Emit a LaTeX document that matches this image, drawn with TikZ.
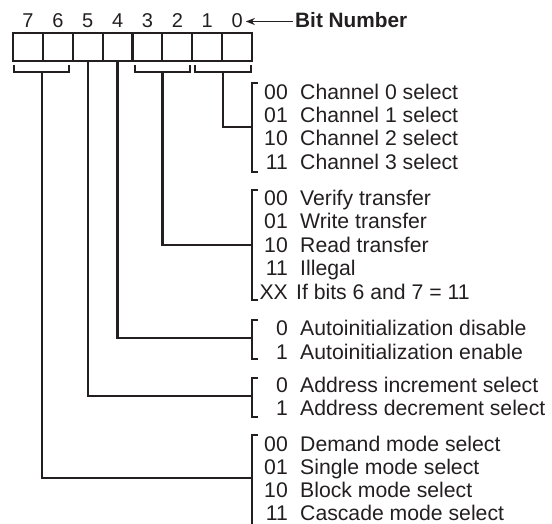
\documentclass[tikz,border=0pt]{standalone}
\usepackage{fontspec}
\setmainfont{Liberation Sans}
\usetikzlibrary{arrows.meta}
\definecolor{ink}{RGB}{35,31,32}
\tikzset{
  bitbox/.style={draw=ink, line width=2.2pt, minimum width=29.875pt, minimum height=28pt, inner sep=0pt, outer sep=0pt},
  bitnum/.style={text=ink, font=\fontsize{20}{20}\selectfont, inner sep=0pt, anchor=base},
  wire/.style={draw=ink, line width=2.2pt, line cap=butt, line join=miter},
  code/.style={text=ink, font=\fontsize{21.2}{21.2}\selectfont, inner sep=0pt, anchor=base east},
  desc/.style={text=ink, font=\fontsize{21.2}{21.2}\selectfont, inner sep=0pt, anchor=base west},
}
\begin{document}
\begin{tikzpicture}[x=1pt,y=-1pt]
\useasboundingbox (0,0) rectangle (552,524);
% boxes and bit numbers
\foreach \b [count=\k from 0] in {7,6,5,4,3,2,1,0}{
  \node[bitbox] (b\b) at ({13+29.875*\k+14.9375},47) {};
  \node[bitnum] (n\b) at ({13+29.875*\k+14.9375},28) {\b};
}
\node[text=ink, font=\bfseries\fontsize{20.8}{20.8}\selectfont, inner sep=0pt, anchor=base west] (bitlbl) at (295,28) {Bit Number};
\coordinate (arrS) at ([xshift=-2pt,yshift=6.5pt]bitlbl.base west);
\coordinate (arrE) at ([xshift=3pt]n0.east |- arrS);
\draw[draw=ink, line width=1.6pt, -{Stealth[length=9pt,width=7pt]}] (arrS) -- (arrE);
% brackets under groups of bits
\draw[wire] (14,65) -- (14,72) -- (69,72) -- (69,65);
\draw[wire] (135,65) -- (135,72) -- (190,72) -- (190,65);
\draw[wire] (195,65) -- (195,72) -- (251,72) -- (251,65);
\coordinate (c76) at (42,72);
\coordinate (c32) at (162.5,72);
\coordinate (c10) at (223,72);
% right brackets
\draw[wire] (258,83) -- (252,83) -- (252,172) -- (258,172);
\draw[wire] (258,190) -- (252,190) -- (252,300) -- (258,300);
\draw[wire] (258,320) -- (252,320) -- (252,359) -- (258,359);
\draw[wire] (258,378) -- (252,378) -- (252,417) -- (258,417);
\draw[wire] (258,435) -- (252,435) -- (252,530);
\coordinate (g1) at (252,127);
\coordinate (g2) at (252,245);
\coordinate (g3) at (252,338);
\coordinate (g4) at (252,396);
\coordinate (g5) at (252,478);
% connectors
\draw[wire] (c10) |- (g1);
\draw[wire] (c32) |- (g2);
\draw[wire] (b4.south) |- (g3);
\draw[wire] (b5.south) |- (g4);
\draw[wire] (c76) |- (g5);
% group 1
\node[code] (k1a) at (288,99.5) {00}; \node[desc] (d1a) at (300,99.5) {Channel 0 select};
\node[code] (k1b) at (288,122.5) {01}; \node[desc] (d1b) at (300,122.5) {Channel 1 select};
\node[code] (k1c) at (288,145.5) {10}; \node[desc] (d1c) at (300,145.5) {Channel 2 select};
\node[code] (k1d) at (288,169.5) {11}; \node[desc] (d1d) at (300,169.5) {Channel 3 select};
% group 2
\node[code] (k2a) at (288,205.5) {00}; \node[desc] (d2a) at (300,205.5) {Verify transfer};
\node[code] (k2b) at (288,228.5) {01}; \node[desc] (d2b) at (300,228.5) {Write transfer};
\node[code] (k2c) at (288,252.5) {10}; \node[desc] (d2c) at (300,252.5) {Read transfer};
\node[code] (k2d) at (288,275.5) {11}; \node[desc] (d2d) at (300,275.5) {Illegal};
\node[code] (k2e) at (288,299.5) {XX}; \node[desc] (d2e) at (296,299.5) {If bits 6 and 7 = 11};
% group 3
\node[code] (k3a) at (288,335.5) {0}; \node[desc] (d3a) at (300,335.5) {Autoinitialization disable};
\node[code] (k3b) at (288,359.5) {1}; \node[desc] (d3b) at (300,359.5) {Autoinitialization enable};
% group 4
\node[code] (k4a) at (288,392.5) {0}; \node[desc] (d4a) at (300,392.5) {Address increment select};
\node[code] (k4b) at (288,415.5) {1}; \node[desc] (d4b) at (300,415.5) {Address decrement select};
% group 5
\node[code] (k5a) at (288,451) {00}; \node[desc] (d5a) at (300,451) {Demand mode select};
\node[code] (k5b) at (288,474) {01}; \node[desc] (d5b) at (300,474) {Single mode select};
\node[code] (k5c) at (288,497.5) {10}; \node[desc] (d5c) at (300,497.5) {Block mode select};
\node[code] (k5d) at (288,520.5) {11}; \node[desc] (d5d) at (300,520.5) {Cascade mode select};
\end{tikzpicture}
\end{document}
